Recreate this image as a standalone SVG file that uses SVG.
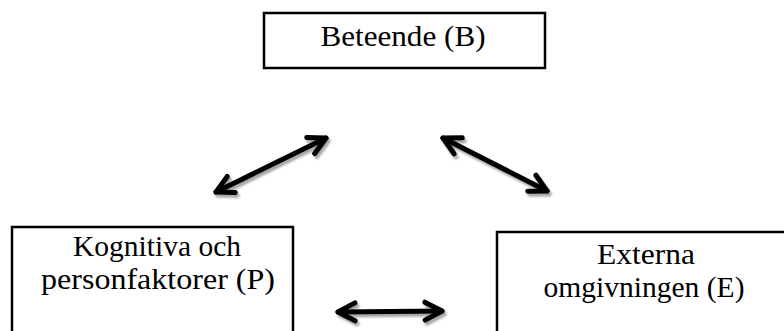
<svg xmlns="http://www.w3.org/2000/svg" width="784" height="331" viewBox="0 0 784 331">
  <style>
    .box { fill: #ffffff; stroke: #000000; stroke-width: 2.5; }
    .label { font-family: "Liberation Serif", "Times New Roman", serif; font-size: 30px; fill: #000000; text-anchor: middle; }
    .link { fill: none; stroke: #000000; stroke-width: 5; stroke-linecap: round; }
    .head { fill: none; stroke: #000000; stroke-width: 5; stroke-linecap: round; stroke-linejoin: round; }
  </style>
  <defs>
    <marker id="chevron" markerUnits="userSpaceOnUse" markerWidth="40" markerHeight="40" refX="0" refY="0" orient="auto-start-reverse" overflow="visible" viewBox="-20 -20 40 40">
      <path class="head" d="M-17,-9 L0,0 L-17,9"/>
    </marker>
    <filter id="shadow" x="-20%" y="-30%" width="140%" height="160%">
      <feDropShadow dx="2" dy="3" stdDeviation="1.2" flood-color="#000000" flood-opacity="0.35"/>
    </filter>
  </defs>

  <rect width="784" height="331" fill="#ffffff"/>

  <g id="node-behaviour">
    <rect class="box" x="264" y="13" width="281" height="55"/>
    <text class="label" x="403" y="46" font-size="32" textLength="165" lengthAdjust="spacingAndGlyphs">Beteende (B)</text>
  </g>

  <g id="node-personal">
    <rect class="box" x="12" y="227" width="281" height="120"/>
    <text class="label" x="157" y="256" textLength="168" lengthAdjust="spacingAndGlyphs">Kognitiva och</text>
    <text class="label" x="158" y="289" textLength="234" lengthAdjust="spacingAndGlyphs">personfaktorer (P)</text>
  </g>

  <g id="node-environment">
    <rect class="box" x="497" y="232" width="300" height="120"/>
    <text class="label" x="646" y="264" textLength="98" lengthAdjust="spacingAndGlyphs">Externa</text>
    <text class="label" x="644" y="297" textLength="201" lengthAdjust="spacingAndGlyphs">omgivningen (E)</text>
  </g>

  <g id="connectors" filter="url(#shadow)">
    <line class="link" x1="216" y1="192" x2="326" y2="138" marker-start="url(#chevron)" marker-end="url(#chevron)"/>
    <line class="link" x1="443" y1="138" x2="547" y2="191" marker-start="url(#chevron)" marker-end="url(#chevron)"/>
    <line class="link" x1="338" y1="312" x2="442" y2="311" marker-start="url(#chevron)" marker-end="url(#chevron)"/>
  </g>
</svg>
